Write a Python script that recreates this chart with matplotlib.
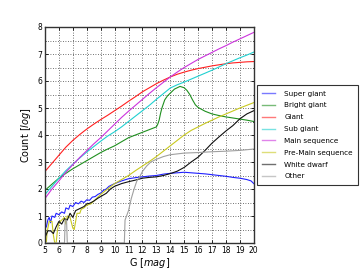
import matplotlib
matplotlib.use("Agg")
import matplotlib.pyplot as plt
from matplotlib.ticker import MultipleLocator

# ---- data (G magnitude, log10 count) ----
labels = ["Super giant", "Bright giant", "Giant", "Sub giant",
          "Main sequence", "Pre-Main sequence", "White dwarf", "Other"]
colors = ["#2020ff", "#1f8f1f", "#ff2020", "#20d0d0",
          "#cc33dd", "#c8c820", "#101010", "#a0a0a0"]

G_half = [5, 5.5, 6, 6.5, 7, 7.5, 8, 8.5, 9, 9.5, 10, 10.5, 11, 11.5, 12, 12.5,
          13, 13.5, 14, 14.5, 15, 15.5, 16, 16.5, 17, 17.5, 18, 18.5, 19, 19.5, 20]

giant = [2.65, 2.95, 3.25, 3.55, 3.8, 4.02, 4.22, 4.4, 4.57, 4.73, 4.9, 5.07,
         5.25, 5.42, 5.6, 5.75, 5.9, 6.03, 6.15, 6.25, 6.33, 6.4, 6.46, 6.51,
         6.56, 6.6, 6.64, 6.67, 6.69, 6.71, 6.72]

main_seq = [1.65, 2.0, 2.3, 2.62, 2.9, 3.17, 3.42, 3.67, 3.9, 4.15, 4.4, 4.65,
            4.88, 5.1, 5.32, 5.54, 5.75, 5.95, 6.15, 6.33, 6.5, 6.65, 6.8, 6.93,
            7.06, 7.19, 7.31, 7.44, 7.56, 7.68, 7.8]

sub_giant = [1.8, 2.1, 2.4, 2.68, 2.92, 3.15, 3.37, 3.57, 3.77, 3.96, 4.12, 4.3,
             4.5, 4.7, 4.9, 5.1, 5.32, 5.53, 5.74, 5.86, 5.96, 6.07, 6.18, 6.29,
             6.4, 6.52, 6.64, 6.75, 6.86, 6.96, 7.07]

G_bright = [5, 5.5, 6, 6.5, 7, 7.5, 8, 8.5, 9, 9.5, 10, 10.5, 11, 11.5, 12, 12.5,
            13, 13.1, 13.2, 13.3, 13.4, 13.5, 13.6, 13.8, 14, 14.3, 14.7, 15,
            15.2, 15.4, 15.6, 15.8, 16, 16.5, 17, 17.5, 18, 18.5, 19, 19.5, 20]
bright_giant = [1.95, 2.18, 2.4, 2.58, 2.75, 2.9, 3.05, 3.2, 3.35, 3.48, 3.6,
                3.75, 3.9, 4.0, 4.1, 4.2, 4.3, 4.4, 4.55, 4.8, 5.0, 5.15, 5.3,
                5.45, 5.55, 5.7, 5.8, 5.75, 5.65, 5.5, 5.3, 5.12, 5.02, 4.88,
                4.78, 4.72, 4.67, 4.63, 4.59, 4.55, 4.5]

G_super = [5, 5.1, 5.2, 5.3, 5.4, 5.5, 5.7, 5.8, 6.0, 6.2, 6.4, 6.5, 6.7, 6.8,
           7.0, 7.2, 7.4, 7.6, 7.8, 8.0, 8.2, 8.4, 8.6, 8.8, 9.0, 9.2, 9.4, 9.6,
           9.8, 10, 10.5, 11, 11.5, 12, 12.5, 13, 13.5, 14, 14.5, 15, 15.5, 16,
           16.5, 17, 17.5, 18, 18.5, 19, 19.5, 19.8, 20]
super_giant = [0.55, 0.6, 0.85, 0.95, 0.75, 1.0, 0.95, 1.1, 1.05, 1.15, 1.1,
               1.3, 1.25, 1.4, 1.35, 1.5, 1.45, 1.55, 1.5, 1.6, 1.58, 1.7, 1.72,
               1.8, 1.85, 1.95, 2.0, 2.1, 2.15, 2.2, 2.3, 2.38, 2.42, 2.45, 2.48,
               2.5, 2.55, 2.58, 2.6, 2.62, 2.6, 2.58, 2.56, 2.53, 2.5, 2.47,
               2.43, 2.4, 2.35, 2.3, 2.2]

G_pms = [5.0, 5.1, 5.15, 5.3, 5.5, 5.6, 5.7, 5.8, 5.9, 6.0, 6.2, 6.4, 6.5, 6.6,
         6.8, 7.0, 7.1, 7.2, 7.3, 7.5, 7.6, 7.8, 8.0, 8.3, 8.6, 9, 9.5, 10,
         10.5, 11, 11.5, 12, 12.5, 13, 13.5, 14, 14.5, 15, 15.5, 16, 16.5, 17,
         17.5, 18, 18.5, 19, 19.5, 20]
pre_main = [0.0, 0.05, 0.4, 0.8, 0.8, 0.3, 0.0, 0.0, 0.5, 0.75, 0.85, 0.95,
            0.7, 1.0, 0.95, 0.55, 0.5, 0.8, 1.1, 1.1, 1.25, 1.3, 1.4, 1.45, 1.6,
            1.8, 2.0, 2.2, 2.35, 2.5, 2.68, 2.85, 3.02, 3.2, 3.4, 3.6, 3.8, 4.0,
            4.17, 4.3, 4.43, 4.55, 4.67, 4.78, 4.89, 5.0, 5.1, 5.2]

G_wd = [5.0, 5.2, 5.4, 5.6, 5.8, 6.0, 6.2, 6.4, 6.6, 6.8, 7.0, 7.2, 7.4, 7.6,
        7.8, 8.0, 8.2, 8.5, 8.8, 9.0, 9.4, 9.7, 10, 10.5, 11, 11.5, 12, 12.5,
        13, 13.5, 14, 14.5, 15, 15.5, 16, 16.5, 17, 17.5, 18, 18.5, 19, 19.5, 20]
white_dwarf = [0.2, 0.45, 0.45, 0.35, 0.6, 0.8, 0.7, 0.9, 0.85, 1.1, 0.95, 1.2,
               1.25, 1.3, 1.35, 1.45, 1.47, 1.55, 1.66, 1.72, 1.84, 2.0, 2.1,
               2.2, 2.27, 2.33, 2.4, 2.43, 2.45, 2.5, 2.57, 2.66, 2.8, 3.0, 3.18,
               3.43, 3.7, 3.93, 4.15, 4.35, 4.6, 4.78, 4.9]

G_other = [5.0, 6.4, 6.45, 6.55, 6.6, 10.7, 10.75, 11.0, 11.2, 11.4, 11.6, 11.8,
           12.0, 12.3, 12.6, 13, 13.5, 14, 14.5, 15, 16, 17, 18, 19, 20]
other = [0.0, 0.0, 0.85, 0.85, 0.0, 0.0, 0.85, 1.2, 1.65, 2.0, 2.3, 2.45, 2.65,
         2.85, 3.0, 3.1, 3.2, 3.27, 3.3, 3.33, 3.35, 3.38, 3.4, 3.43, 3.48]

series = [(G_super, super_giant), (G_bright, bright_giant), (G_half, giant),
          (G_half, sub_giant), (G_half, main_seq), (G_pms, pre_main),
          (G_wd, white_dwarf), (G_other, other)]

x_ticks = list(range(5, 21))
y_ticks = list(range(0, 9))

# ---- plot ----
plt.rcParams['font.family'] = ['DejaVu Sans']
fig = plt.figure(figsize=(3.6, 2.7), dpi=100, facecolor='white')
ax = fig.add_axes([0.125, 0.1, 0.58, 0.8])

for (gx, gy), lab, col in zip(series, labels, colors):
    ax.plot(gx, gy, color=col, lw=0.8, label=lab)

ax.set_xlim(5, 20)
ax.set_ylim(0, 8)
ax.set_xticks(x_ticks)
ax.set_yticks(y_ticks)
ax.yaxis.set_minor_locator(MultipleLocator(0.5))
ax.grid(True, which='both', color='#444444', linestyle=(0, (1, 2)),
        linewidth=0.6)
ax.tick_params(which='both', direction='in', top=True, right=True,
               labelsize=5.5, length=2, width=0.6, pad=2)
ax.tick_params(which='minor', length=1)
for s in ax.spines.values():
    s.set_linewidth(1.0)
    s.set_color('#333333')

ax.set_xlabel(r"G $[mag]$", fontsize=7, labelpad=1)
ax.set_ylabel(r"Count $[log]$", fontsize=7, labelpad=3)

leg = ax.legend(loc='center left', bbox_to_anchor=(1.0, 0.5), fontsize=5.2,
                frameon=True, fancybox=False, borderaxespad=0.45,
                handlelength=1.7, handletextpad=1.3, labelspacing=0.8,
                borderpad=0.75)
leg.get_frame().set_edgecolor('black')
leg.get_frame().set_linewidth(0.8)
for h in leg.get_lines():
    h.set_alpha(0.6)
    h.set_linewidth(1.0)

fig.savefig("out.png", dpi=100, facecolor='white')
